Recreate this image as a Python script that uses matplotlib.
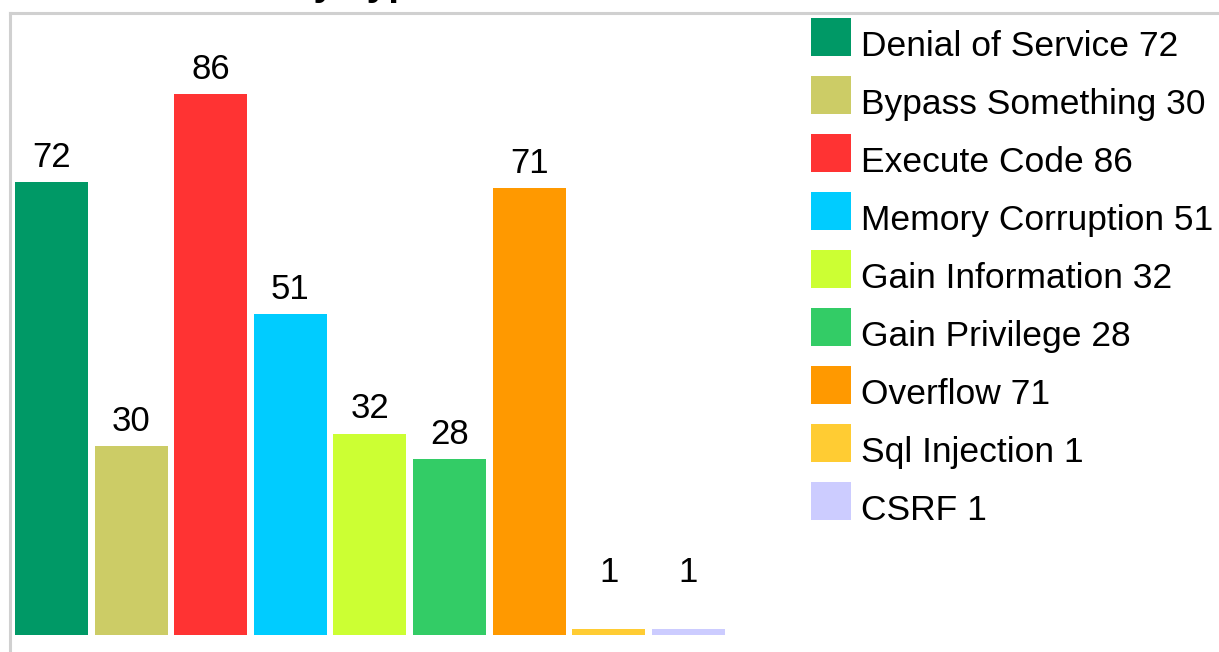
import matplotlib
matplotlib.use("Agg")
import matplotlib.pyplot as plt
from matplotlib.lines import Line2D
from matplotlib.patches import Rectangle
from matplotlib.legend_handler import HandlerPatch

plt.rcParams['font.family'] = ['Liberation Sans', 'DejaVu Sans']

title = "Vulnerabilities By Type"
categories = ["Denial of Service", "Bypass Something", "Execute Code", "Memory Corruption",
              "Gain Information", "Gain Privilege", "Overflow", "Sql Injection", "CSRF"]
values = [72, 30, 86, 51, 32, 28, 71, 1, 1]
colors = ["#009966", "#CCCC66", "#FF3333", "#00CCFF", "#CCFF33", "#33CC66",
          "#FF9900", "#FFCC33", "#CCCCFF"]

W, H = 1219, 652
fig = plt.figure(figsize=(W / 100, H / 100), dpi=100)

# axes placed in pixel terms
left_px, width_px = 11.7, 716.4
bottom_px, height_px = 17, 629
ax = fig.add_axes([left_px / W, bottom_px / H, width_px / W, height_px / H])
x = list(range(len(categories)))
bars = ax.bar(x, values, width=0.917, color=colors, linewidth=0)
ax.set_xlim(-0.5, len(categories) - 0.5)
ax.set_ylim(0, 100)
ax.axis('off')

for xi, v in zip(x, values):
    ax.annotate(str(v), (xi, max(v, 6)), xytext=(0, 11), textcoords='offset points',
                ha='center', va='baseline', fontsize=25, color='black', clip_on=False)

# frame lines (grey border)
frame_col = "#d0d0d0"
fig.add_artist(Line2D([10 / W, 1], [1 - 13 / H, 1 - 13 / H], color=frame_col, lw=2.2,
                      transform=fig.transFigure))
fig.add_artist(Line2D([10 / W, 10 / W], [0, 1 - 13 / H], color=frame_col, lw=2.2,
                      transform=fig.transFigure))

# title mostly cut off at the top
fig.text(10 / W, 1 + 5 / H, title, fontsize=28, fontweight='bold', ha='left', va='baseline')


def raised_rect(legend, orig_handle, xdescent, ydescent, width, height, fontsize):
    return Rectangle((-xdescent, -ydescent + 5), width, height)


labels = [f"{c} {v}" for c, v in zip(categories, values)]
leg = fig.legend(bars, labels, loc='upper left', bbox_to_anchor=(811 / W, 1 - 25 / H),
                 frameon=False, fontsize=25.5, handlelength=1.13, handleheight=1.25,
                 handletextpad=0.28, labelspacing=0.575, borderpad=0, borderaxespad=0,
                 handler_map={Rectangle: HandlerPatch(patch_func=raised_rect)})

fig.savefig("out.png", dpi=100)
